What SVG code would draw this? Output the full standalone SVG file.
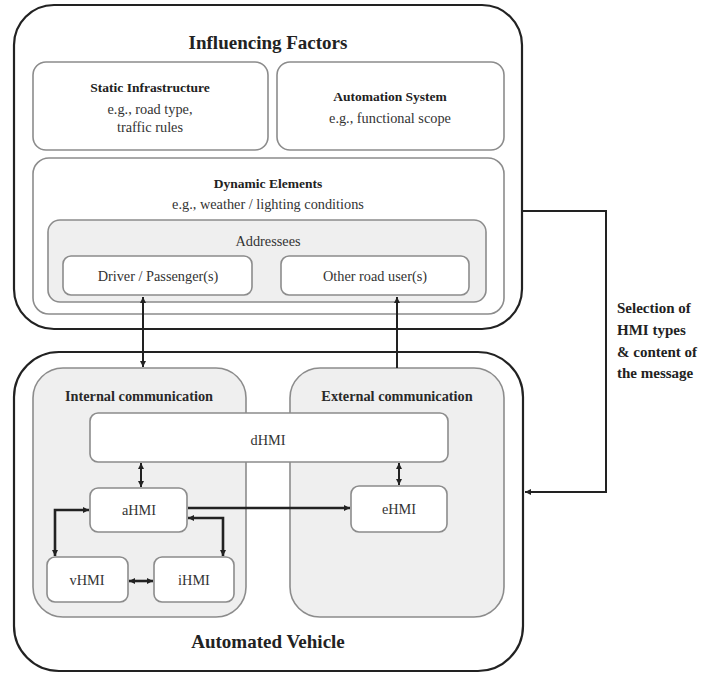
<svg xmlns="http://www.w3.org/2000/svg" width="710" height="674" viewBox="0 0 710 674">
  <defs>
    <style>
      .outer { fill: #ffffff; stroke: #222222; stroke-width: 2.2; }
      .box { fill: #ffffff; stroke: #8c8c8c; stroke-width: 1.6; }
      .shade { fill: #efefef; stroke: #8c8c8c; stroke-width: 1.6; }
      text { font-family: "Liberation Serif", "Times New Roman", serif; fill: #333333; text-anchor: middle; }
      .title { font-size: 19px; font-weight: bold; fill: #222222; }
      .head { font-size: 13.5px; font-weight: bold; fill: #222222; }
      .comm { font-size: 14.3px; font-weight: bold; fill: #2a2a2a; }
      .body { font-size: 14.3px; }
      .note { font-size: 15px; font-weight: bold; fill: #222222; text-anchor: start; }
      .link { fill: none; stroke: #222222; stroke-width: 2; }
      .thick { stroke-width: 2.6; }
    </style>
    <marker id="tip" viewBox="0 0 6 6" refX="6" refY="3" markerWidth="6" markerHeight="6" markerUnits="userSpaceOnUse" orient="auto-start-reverse">
      <path d="M0,0 L6,3 L0,6 z" fill="#222222"/>
    </marker>
  </defs>

  <!-- Influencing factors container -->
  <g id="influencing-factors">
    <rect class="outer" x="14" y="5" width="508" height="324" rx="40"/>
    <text class="title" x="268" y="49">Influencing Factors</text>
  </g>

  <g id="static-infrastructure">
    <rect class="box" x="33" y="62" width="235" height="88" rx="13"/>
    <text class="head" x="150" y="92">Static Infrastructure</text>
    <text class="body" x="150" y="114">e.g., road type,</text>
    <text class="body" x="150" y="132">traffic rules</text>
  </g>

  <g id="automation-system">
    <rect class="box" x="277" y="62" width="227" height="88" rx="13"/>
    <text class="head" x="390" y="101">Automation System</text>
    <text class="body" x="390" y="123">e.g., functional scope</text>
  </g>

  <g id="dynamic-elements">
    <rect class="box" x="33" y="158" width="471" height="156" rx="16"/>
    <text class="head" x="268" y="188">Dynamic Elements</text>
    <text class="body" x="268" y="209">e.g., weather / lighting conditions</text>
  </g>

  <g id="addressees">
    <rect class="shade" x="48" y="220" width="438" height="82" rx="12"/>
    <text class="body" x="268" y="246">Addressees</text>
  </g>

  <g id="driver-passengers">
    <rect class="box" x="63" y="256" width="189" height="39" rx="8"/>
    <text class="body" x="158" y="281">Driver / Passenger(s)</text>
  </g>

  <g id="other-road-users">
    <rect class="box" x="281" y="256" width="188" height="39" rx="8"/>
    <text class="body" x="375" y="281">Other road user(s)</text>
  </g>

  <!-- Automated vehicle container -->
  <g id="automated-vehicle">
    <rect class="outer" x="14" y="352" width="509" height="319" rx="45"/>
    <text class="title" x="268" y="648">Automated Vehicle</text>
  </g>

  <g id="internal-communication">
    <rect class="shade" x="33" y="368" width="213" height="249" rx="30"/>
    <text class="comm" x="139" y="401">Internal communication</text>
  </g>

  <g id="external-communication">
    <rect class="shade" x="290" y="368" width="214" height="249" rx="30"/>
    <text class="comm" x="397" y="401">External communication</text>
  </g>

  <g id="dhmi">
    <rect class="box" x="90" y="413" width="358" height="49" rx="8"/>
    <text class="body" x="268" y="445">dHMI</text>
  </g>

  <g id="ahmi">
    <rect class="box" x="90" y="488" width="97" height="44" rx="8"/>
    <text class="body" x="139" y="515">aHMI</text>
  </g>

  <g id="ehmi">
    <rect class="box" x="351" y="486" width="96" height="46" rx="8"/>
    <text class="body" x="399" y="514">eHMI</text>
  </g>

  <g id="vhmi">
    <rect class="box" x="47" y="557" width="81" height="45" rx="8"/>
    <text class="body" x="87" y="585">vHMI</text>
  </g>

  <g id="ihmi">
    <rect class="box" x="154" y="557" width="80" height="45" rx="8"/>
    <text class="body" x="194" y="585">iHMI</text>
  </g>

  <!-- Feedback label -->
  <g id="selection-label">
    <text class="note" x="617" y="313">Selection of</text>
    <text class="note" x="617" y="335">HMI types</text>
    <text class="note" x="617" y="357">&amp; content of</text>
    <text class="note" x="617" y="378">the message</text>
  </g>

  <!-- Connectors -->
  <g id="connectors">
    <line class="link" x1="143" y1="297" x2="143" y2="367" marker-start="url(#tip)" marker-end="url(#tip)"/>
    <line class="link" x1="397" y1="368" x2="397" y2="297" marker-end="url(#tip)"/>
    <path class="link" d="M522,211 H606 V492 H525" marker-end="url(#tip)"/>
    <line class="link" x1="141" y1="463" x2="141" y2="487" marker-start="url(#tip)" marker-end="url(#tip)"/>
    <line class="link" x1="399" y1="463" x2="399" y2="485" marker-start="url(#tip)" marker-end="url(#tip)"/>
    <line class="link thick" x1="188" y1="508" x2="350" y2="508" marker-end="url(#tip)"/>
    <path class="link thick" d="M89,510 H55 V556" marker-start="url(#tip)" marker-end="url(#tip)"/>
    <path class="link thick" d="M188,518 H223 V556" marker-start="url(#tip)" marker-end="url(#tip)"/>
    <line class="link thick" x1="129" y1="581" x2="153" y2="581" marker-start="url(#tip)" marker-end="url(#tip)"/>
  </g>
</svg>
